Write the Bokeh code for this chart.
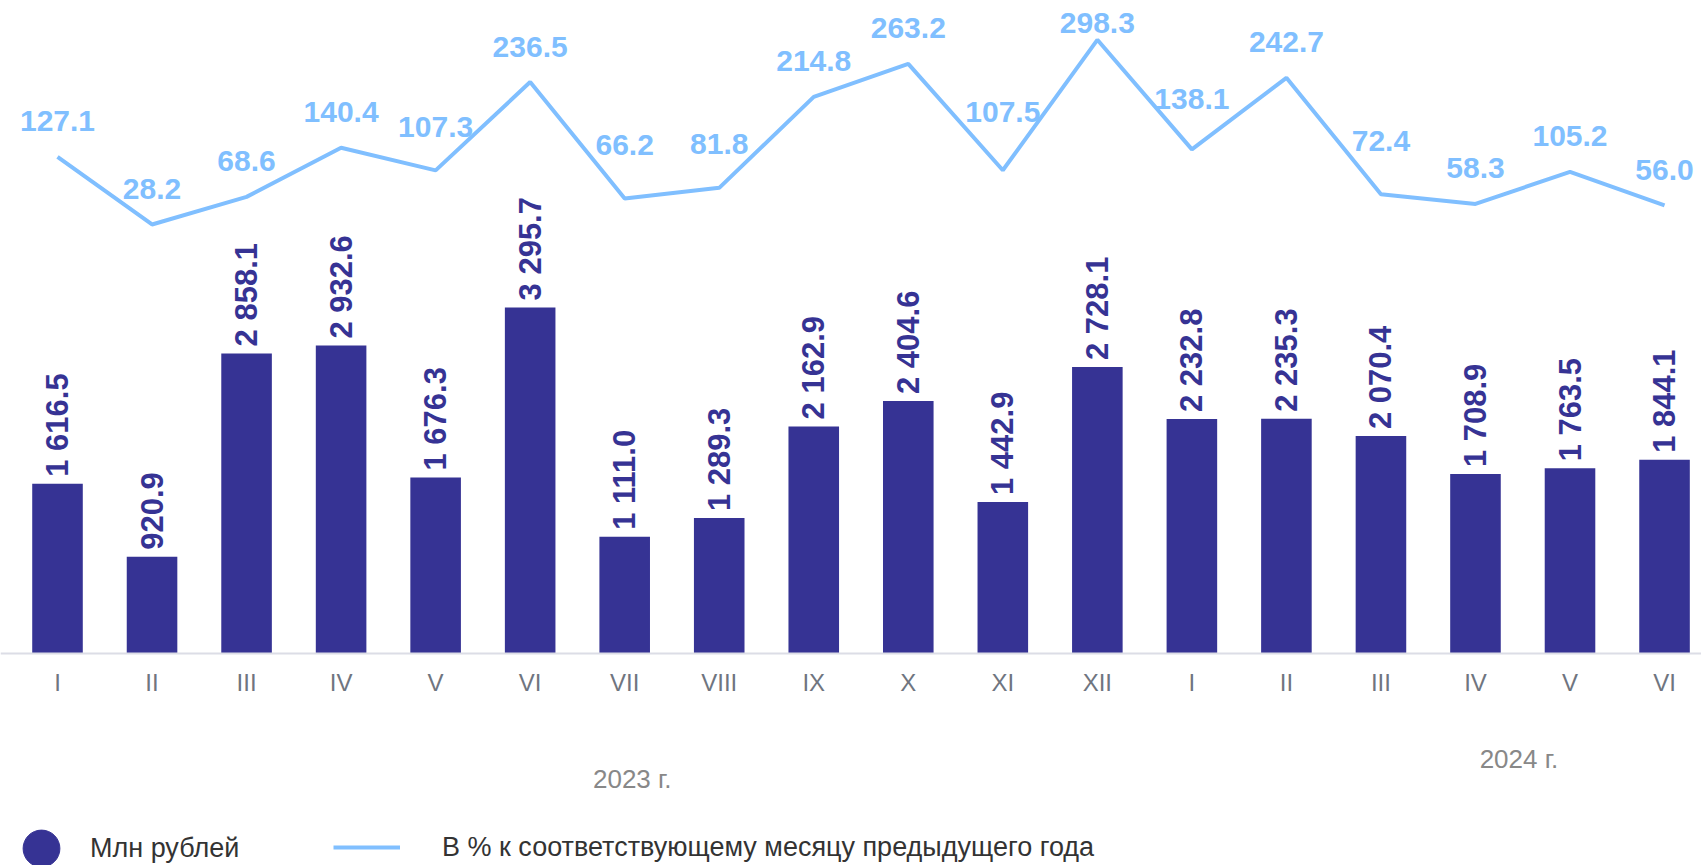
import numpy as np
from bokeh.plotting import figure
from bokeh.models import (Range1d, LinearAxis, FixedTicker, Label, Legend,
                          LegendItem, ColumnDataSource)
from bokeh.core.properties import value
from bokeh.embed import file_html
from bokeh.resources import INLINE

# ---------------- data ----------------
months = ["I", "II", "III", "IV", "V", "VI", "VII", "VIII", "IX", "X", "XI", "XII",
          "I", "II", "III", "IV", "V", "VI"]
mln_rub = [1616.5, 920.9, 2858.1, 2932.6, 1676.3, 3295.7, 1111.0, 1289.3, 2162.9,
           2404.6, 1442.9, 2728.1, 2232.8, 2235.3, 2070.4, 1708.9, 1763.5, 1844.1]
pct_prev_year = [127.1, 28.2, 68.6, 140.4, 107.3, 236.5, 66.2, 81.8, 214.8,
                 263.2, 107.5, 298.3, 138.1, 242.7, 72.4, 58.3, 105.2, 56.0]
years = ["2023 г.", "2024 г."]
series_names = ["Млн рублей", "В % к соответствующему месяцу предыдущего года"]

# ---------------- style ----------------
BAR = "#363394"
LINE = "#80bfff"
FONT = "Liberation Sans"

W, H = 1701, 865
BASE_Y = 653                 # pixel row of the bar baseline
BAR_PX_PER_UNIT = 0.105
PCT_PX_PER_UNIT = 0.6838
PCT_TOP = 298.3 + 39.3 / PCT_PX_PER_UNIT
PCT_BOTTOM = PCT_TOP - H / PCT_PX_PER_UNIT

idx = np.arange(len(months))

p = figure(width=W, height=H, output_backend="svg", toolbar_location=None,
           x_axis_type=None, y_axis_type=None,
           x_range=Range1d(-0.603, 17.391),
           y_range=Range1d(-(H - BASE_Y) / BAR_PX_PER_UNIT, BASE_Y / BAR_PX_PER_UNIT),
           min_border=0)
p.outline_line_color = None
p.background_fill_color = "white"
p.border_fill_color = "white"
p.extra_y_ranges = {"pct": Range1d(PCT_BOTTOM, PCT_TOP)}

# x axis with month labels, fixed at the bar baseline
xaxis = LinearAxis(ticker=FixedTicker(ticks=list(range(len(months)))),
                   major_label_overrides={i: m for i, m in enumerate(months)},
                   fixed_location=0)
xaxis.axis_line_color = "#dcdde6"
xaxis.axis_line_width = 2
xaxis.major_tick_line_color = None
xaxis.minor_tick_line_color = None
xaxis.major_label_text_font = FONT
xaxis.major_label_text_font_size = "24px"
xaxis.major_label_text_color = "#6f7580"
xaxis.major_label_standoff = 9
p.add_layout(xaxis, "below")

# bars
bar_src = ColumnDataSource(dict(
    x=idx, top=mln_rub,
    text=[f"{v:,.1f}".replace(",", " ") for v in mln_rub]))
bars = p.vbar(x="x", top="top", width=0.535, bottom=0, source=bar_src,
              fill_color=BAR, line_color=None)
p.text(x="x", y="top", text="text", source=bar_src, angle=np.pi / 2,
       text_align="left", text_baseline="middle", y_offset=-7,
       text_font=value(FONT), text_font_style="bold", text_font_size="31px",
       text_color=BAR)

# line
pct = np.array(pct_prev_year, dtype=float)
# label placement: above the point, and clear of the line within +-0.35 category
reach = 0.35
left = np.r_[pct[0], pct[:-1]]
right = np.r_[pct[1:], pct[-1]]
near_max = np.maximum.reduce([pct,
                              pct + reach * (left - pct),
                              pct + reach * (right - pct)])
lab_y = np.maximum(pct + 52, near_max + 18)
lab_y = np.minimum(lab_y, PCT_TOP - 22 / PCT_PX_PER_UNIT)
line_src = ColumnDataSource(dict(
    x=idx, y=pct, ly=lab_y, text=[f"{v:.1f}" for v in pct_prev_year]))
line = p.line(x="x", y="y", source=line_src, y_range_name="pct",
              line_color=LINE, line_width=4)
p.text(x="x", y="ly", text="text", source=line_src, y_range_name="pct",
       text_align="center", text_baseline="middle",
       text_font=value(FONT), text_font_style="bold", text_font_size="30px",
       text_color=LINE)

# year labels
for yr, xpos, ypos in [(years[0], 6.08, H - 778), (years[1], 15.46, H - 758)]:
    p.add_layout(Label(x=xpos, y=ypos, y_units="screen", text=yr,
                       text_align="center", text_baseline="middle",
                       text_font=FONT, text_font_size="26px",
                       text_color="#888888"))

# legends
proxy = p.scatter(x=[np.nan], y=[np.nan], marker="circle", size=10,
                  fill_color=BAR, line_color=BAR)
leg_a = Legend(items=[LegendItem(label=series_names[0], renderers=[proxy])],
               location=(-5, H - 848 - 46), glyph_width=92, glyph_height=92,
               label_standoff=3, padding=0, margin=0, spacing=0,
               border_line_color=None, background_fill_alpha=0,
               label_text_font=FONT, label_text_font_size="27px",
               label_text_color="#333333", label_height=92)
leg_b = Legend(items=[LegendItem(label=series_names[1], renderers=[line])],
               location=(333, H - 847 - 20), glyph_width=67, glyph_height=40,
               label_standoff=42, padding=0, margin=0, spacing=0,
               border_line_color=None, background_fill_alpha=0,
               label_text_font=FONT, label_text_font_size="27px",
               label_text_color="#333333", label_height=40)
p.add_layout(leg_a, "center")
p.add_layout(leg_b, "center")

open("out.html", "w").write(file_html(p, INLINE))
